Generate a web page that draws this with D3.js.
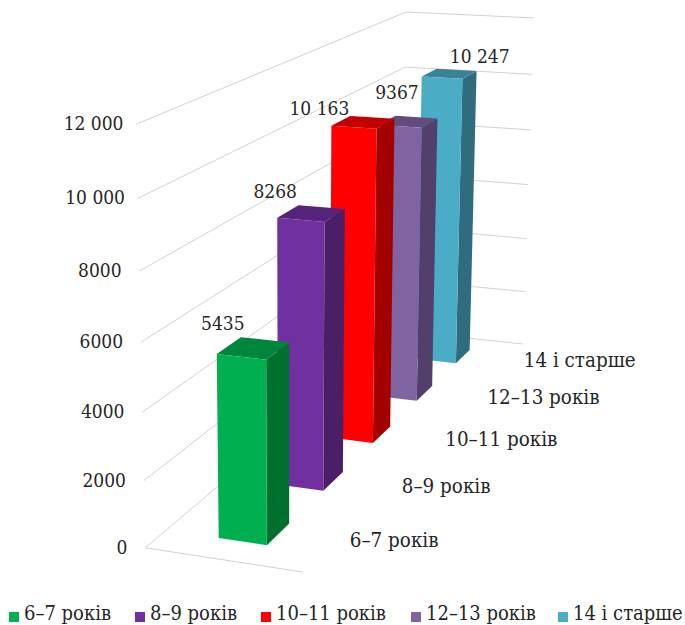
<!DOCTYPE html>
<html><head><meta charset="utf-8">
<script src="https://cdn.jsdelivr.net/npm/d3@7"></script>
<style>html,body{margin:0;padding:0;background:#fff;overflow:hidden}text{font-family:"DejaVu Serif Condensed","DejaVu Serif",serif;fill:#262626}</style>
</head><body><svg id="c" width="685" height="625"></svg>
<script>
const ageGroups = ["6–7 років","8–9 років","10–11 років","12–13 років","14 і старше"];
const children = [5435,8268,10163,9367,10247];
const valueTicks = [0,2000,4000,6000,8000,10000,12000];
const frontColors = ["#00B050","#7030A0","#FF0000","#8064A2","#4BACC6"];
const topColors   = ["#00853C","#55247A","#C20000","#614C7B","#398399"];
const sideColors  = ["#00702F","#4A1F66","#A30000","#533F6C","#2F6D7E"];

// Plot box corners as [x, depth, height] -> screen, used to fit the camera.
const boxCorners = [
  [[0,0,0],[146,548]],[[0,0,1],[136,124]],[[0,1,0],[400,331]],[[0,1,1],[407,12]],
  [[1,0,0],[303,572]],[[1,1,0],[524,344]],[[1,1,1],[533,18]]
];

// Least-squares fit of a 3x4 projective camera matrix.
function fitCamera(pairs){
  const rows=[],rhs=[];
  pairs.forEach(([[x,y,z],[u,v]])=>{
    rows.push([x,y,z,1,0,0,0,0,-u*x,-u*y,-u*z]);rhs.push(u);
    rows.push([0,0,0,0,x,y,z,1,-v*x,-v*y,-v*z]);rhs.push(v);
  });
  const n=11,A=d3.range(n).map(i=>d3.range(n+1).map(j=>{
    let s=0;rows.forEach((r,k)=>{s+=r[i]*(j<n?r[j]:rhs[k]);});return s;}));
  for(let c=0;c<n;c++){
    let p=c;for(let r=c+1;r<n;r++)if(Math.abs(A[r][c])>Math.abs(A[p][c]))p=r;
    [A[c],A[p]]=[A[p],A[c]];
    for(let r=0;r<n;r++)if(r!==c){const f=A[r][c]/A[c][c];for(let j=c;j<=n;j++)A[r][j]-=f*A[c][j];}
  }
  return A.map((r,i)=>r[n]/r[i]);
}
const m=fitCamera(boxCorners);
const project=(x,d,h)=>{
  const w=m[8]*x+m[9]*d+m[10]*h+1;
  return [(m[0]*x+m[1]*d+m[2]*h+m[3])/w,(m[4]*x+m[5]*d+m[6]*h+m[7])/w];
};

const svg=d3.select("#c");
const heightScale=d3.scaleLinear().domain([0,12000]).range([0,1]);
const depthScale=d3.scaleBand().domain(ageGroups).range([0,1]).paddingInner(0.62).paddingOuter(0.31);
const widthScale=d3.scaleBand().domain(["all"]).range([0,1]).paddingInner(0).paddingOuter(1.11);
const grouped=d3.format(",");
const fmt=v=>v>=10000?grouped(v).replace(",", " "):String(v);
const line=d3.line();

// Back walls and floor
const grid=svg.append("g").attr("fill","none").attr("stroke","#d2d2d2").attr("stroke-width",1);
valueTicks.forEach(t=>{
  const h=heightScale(t);
  grid.append("path").attr("d",line([project(0,0,h),project(0,1,h),project(1,1,h)]));
});
grid.append("path").attr("d",line([project(0,0,0),project(1,0,0)]));

// Value axis
svg.append("g").selectAll("text").data(valueTicks).join("text")
  .attr("x",t=>project(0,0,heightScale(t))[0]-(t>=10000?13:18))
  .attr("y",t=>project(0,0,heightScale(t))[1]+6)
  .attr("text-anchor","end").attr("font-size",19).text(fmt);

// Bars, furthest first
const x0=widthScale("all"),x1=x0+widthScale.bandwidth();
const bars=ageGroups.map((g,i)=>({g,i,v:children[i]})).reverse();
bars.forEach(b=>{
  const d0=depthScale(b.g),d1=d0+depthScale.bandwidth(),h=heightScale(b.v);
  const G=svg.append("g");
  G.append("path").attr("fill",sideColors[b.i]).attr("d",line([project(x1,d0,0),project(x1,d1,0),project(x1,d1,h),project(x1,d0,h)])+"Z");
  G.append("path").attr("fill",topColors[b.i]).attr("d",line([project(x0,d0,h),project(x1,d0,h),project(x1,d1,h),project(x0,d1,h)])+"Z");
  G.append("path").attr("fill",frontColors[b.i]).attr("d",line([project(x0,d0,0),project(x1,d0,0),project(x1,d0,h),project(x0,d0,h)])+"Z");
});

// Value labels sit above each bar, with a small per-bar shift to clear its neighbours
const labelShift=[[6,0],[-2,4],[-12,13],[18,-2],[58,11]];
svg.append("g").selectAll("text").data(ageGroups).join("text")
  .attr("x",(g,i)=>project(x0,depthScale(g),heightScale(children[i]))[0]+labelShift[i][0])
  .attr("y",(g,i)=>project(x0,depthScale(g),heightScale(children[i]))[1]-24+labelShift[i][1])
  .attr("text-anchor","middle").attr("font-size",19).text((g,i)=>fmt(children[i]));

// Depth axis labels
const depthLabelShift=[[-10,-12],[-6,-10],[7,-9],[12,-8],[15,-7]];
svg.append("g").selectAll("text").data(ageGroups).join("text")
  .attr("x",(g,i)=>project(1.45,depthScale(g)+depthScale.bandwidth()/2,0)[0]+depthLabelShift[i][0])
  .attr("y",(g,i)=>project(1.45,depthScale(g)+depthScale.bandwidth()/2,0)[1]+6+depthLabelShift[i][1])
  .attr("text-anchor","middle").attr("font-size",20.4).text(g=>g);

// Legend
const legendX=[9,135,261,411,558];
const legend=svg.append("g").selectAll("g").data(ageGroups).join("g")
  .attr("transform",(g,i)=>`translate(${legendX[i]},612)`);
legend.append("rect").attr("width",10).attr("height",10).attr("fill",(g,i)=>frontColors[i]);
legend.append("text").attr("x",15).attr("y",8.2).attr("font-size",20).text(g=>g);
</script></body></html>
